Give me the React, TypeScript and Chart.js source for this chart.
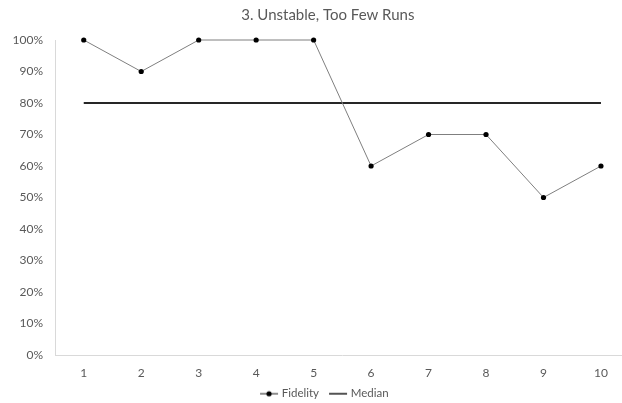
import React, { useEffect, useRef } from "react";
import { Chart, registerables } from "chart.js";

Chart.register(...registerables);

const categories = ["1", "2", "3", "4", "5", "6", "7", "8", "9", "10"];
const fidelity = [1, 0.9, 1, 1, 1, 0.6, 0.7, 0.7, 0.5, 0.6];
const median = [0.8, 0.8, 0.8, 0.8, 0.8, 0.8, 0.8, 0.8, 0.8, 0.8];
const title = "3. Unstable, Too Few Runs";
const seriesNames = ["Fidelity", "Median"];

const FONT = "Lato, 'Open Sans', sans-serif";
const TEXT = "#595959";

function makeSymbol(withDot: boolean, lineColor: string, lw: number) {
  const c = document.createElement("canvas");
  c.width = 20;
  c.height = 8;
  const ctx = c.getContext("2d")!;
  ctx.strokeStyle = lineColor;
  ctx.lineWidth = lw;
  ctx.beginPath();
  ctx.moveTo(1, 4);
  ctx.lineTo(19, 4);
  ctx.stroke();
  if (withDot) {
    ctx.fillStyle = "#000";
    ctx.beginPath();
    ctx.arc(10, 4, 2.6, 0, Math.PI * 2);
    ctx.fill();
  }
  return c;
}

// The original chart is wider than the visible window: centre title/legend on its full width.
const recentre = {
  id: "recentre",
  afterLayout(chart: any) {
    const t = chart.titleBlock;
    if (t) {
      t.left += 13;
      t.right += 13;
    }
    const l = chart.legend;
    if (l) {
      l.left += 10.5;
      l.right += 10.5;
      l.top -= 5;
      l.bottom -= 5;
    }
  },
};

export default function App() {
  const ref = useRef<HTMLCanvasElement | null>(null);
  useEffect(() => {
    document.body.style.margin = "0";
    const symF = makeSymbol(true, "#404040", 1.2);
    const symM = makeSymbol(false, "#404040", 1.8);
    const chart = new Chart(ref.current!, {
      type: "line",
      plugins: [recentre],
      data: {
        labels: categories,
        datasets: [
          {
            label: seriesNames[0],
            data: fidelity,
            borderColor: "#7f7f7f",
            borderWidth: 1,
            pointRadius: 2.6,
            pointBackgroundColor: "#000",
            pointBorderColor: "#000",
            pointBorderWidth: 0,
            tension: 0,
            clip: false as any,
          },
          {
            label: seriesNames[1],
            data: median,
            borderColor: "#262626",
            borderWidth: 1.8,
            pointRadius: 0,
            tension: 0,
          },
        ],
      },
      options: {
        animation: false,
        responsive: true,
        maintainAspectRatio: false,
        layout: { padding: { left: 0, right: 10.3, top: 0, bottom: -11.5 } },
        plugins: {
          tooltip: { enabled: false },
          title: {
            display: true,
            text: title,
            color: TEXT,
            font: { family: FONT, size: 15, weight: "normal" },
            padding: { top: 6.5, bottom: 15.5 },
          },
          legend: {
            position: "bottom",
            labels: {
              color: TEXT,
              font: { family: FONT, size: 11.5 },
              usePointStyle: true,
              pointStyleWidth: 14,
              padding: 12,
              generateLabels: () => [
                { text: seriesNames[0], pointStyle: symF as any, fontColor: TEXT, datasetIndex: 0, hidden: false, lineWidth: 0 },
                { text: seriesNames[1], pointStyle: symM as any, fontColor: TEXT, datasetIndex: 1, hidden: false, lineWidth: 0 },
              ],
            },
          },
        },
        scales: {
          x: {
            offset: true,
            grid: { display: false, drawTicks: false },
            border: { display: true, color: "#d9d9d9", width: 1 },
            ticks: { color: TEXT, font: { family: FONT, size: 12 }, padding: 11, maxRotation: 0 },
            afterFit: (s: any) => {
              s.height = 26;
            },
          },
          y: {
            min: 0,
            max: 1,
            grid: { display: false, drawTicks: false },
            border: { display: true, color: "#d9d9d9", width: 1 },
            ticks: {
              stepSize: 0.1,
              color: TEXT,
              font: { family: FONT, size: 12 },
              padding: 12,
              callback: (v: any) => Math.round(Number(v) * 100) + "%",
            },
            afterFit: (s: any) => {
              s.width = 55;
            },
          },
        },
      },
    });
    return () => chart.destroy();
  }, []);
  return (
    <div style={{ position: "fixed", left: 0, top: 0, width: 622, height: 403, overflow: "hidden", background: "#fff" }}>
      <div style={{ position: "relative", width: 640, height: 403 }}>
        <canvas ref={ref} />
      </div>
    </div>
  );
}
